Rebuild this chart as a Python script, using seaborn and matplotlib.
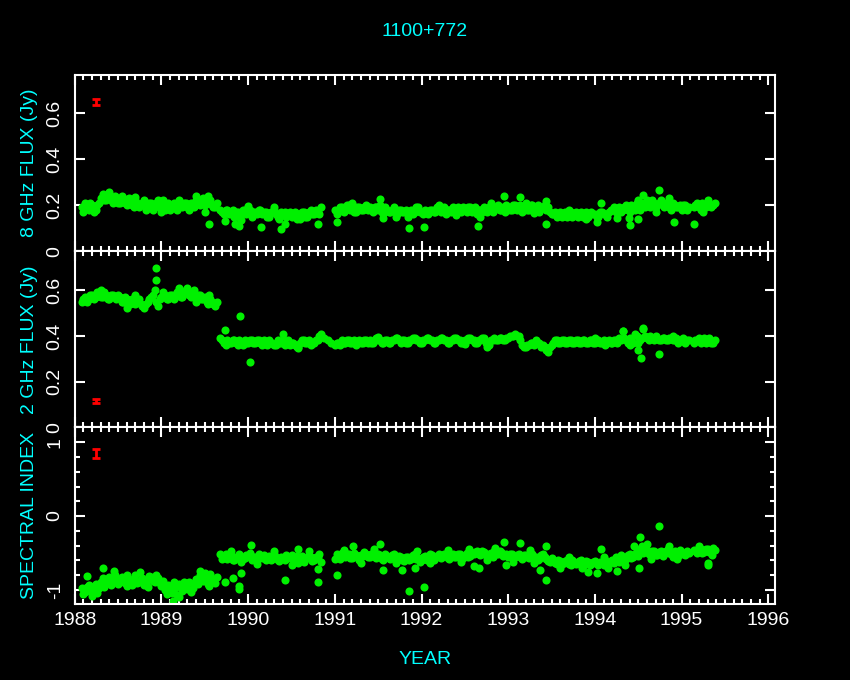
import matplotlib
matplotlib.use("Agg")
import matplotlib.pyplot as plt
import numpy as np
import pandas as pd
import seaborn as sns
from matplotlib.ticker import MultipleLocator, NullLocator

# observation epochs (decimal year), shared by the three panels
years = [
    1988.08, 1988.12, 1988.16, 1988.20, 1988.24, 1988.28, 1988.32, 1988.36, 1988.40, 1988.44,
    1988.48, 1988.52, 1988.56, 1988.60, 1988.64, 1988.68, 1988.72, 1988.76, 1988.80, 1988.84,
    1988.88, 1988.92, 1988.96, 1989.00, 1989.04, 1989.08, 1989.12, 1989.16, 1989.20, 1989.24,
    1989.28, 1989.32, 1989.36, 1989.40, 1989.44, 1989.48, 1989.52, 1989.56, 1989.60, 1989.64,
    1989.68, 1989.72, 1989.76, 1989.80, 1989.84, 1989.88, 1989.92, 1989.96, 1990.00, 1990.04,
    1990.08, 1990.12, 1990.16, 1990.20, 1990.24, 1990.28, 1990.32, 1990.36, 1990.40, 1990.44,
    1990.48, 1990.52, 1990.56, 1990.60, 1990.64, 1990.68, 1990.72, 1990.76, 1990.80, 1990.84,
    1991.00, 1991.04, 1991.08, 1991.12, 1991.16, 1991.20, 1991.24, 1991.28, 1991.32, 1991.36,
    1991.40, 1991.44, 1991.48, 1991.52, 1991.56, 1991.60, 1991.64, 1991.68, 1991.72, 1991.76,
    1991.80, 1991.84, 1991.88, 1991.92, 1991.96, 1992.00, 1992.04, 1992.08, 1992.12, 1992.16,
    1992.20, 1992.24, 1992.28, 1992.32, 1992.36, 1992.40, 1992.44, 1992.48, 1992.52, 1992.56,
    1992.60, 1992.64, 1992.68, 1992.72, 1992.76, 1992.80, 1992.84, 1992.88, 1992.92, 1992.96,
    1993.00, 1993.04, 1993.08, 1993.12, 1993.16, 1993.20, 1993.24, 1993.28, 1993.32, 1993.36,
    1993.40, 1993.44, 1993.48, 1993.52, 1993.56, 1993.60, 1993.64, 1993.68, 1993.72, 1993.76,
    1993.80, 1993.84, 1993.88, 1993.92, 1993.96, 1994.00, 1994.04, 1994.08, 1994.12, 1994.16,
    1994.20, 1994.24, 1994.28, 1994.32, 1994.36, 1994.40, 1994.44, 1994.48, 1994.52, 1994.56,
    1994.60, 1994.64, 1994.68, 1994.72, 1994.76, 1994.80, 1994.84, 1994.88, 1994.92, 1994.96,
    1995.00, 1995.04, 1995.08,
    1995.14, 1995.18, 1995.22, 1995.26, 1995.30, 1995.34, 1995.38,
]

flux8 = [
    0.19, 0.21, 0.18, 0.20, 0.18, 0.21, 0.25, 0.22, 0.24, 0.21,
    0.23, 0.21, 0.23, 0.20, 0.22, 0.19, 0.21, 0.20, 0.22, 0.19,
    0.21, 0.19, 0.22, 0.20, 0.18, 0.21, 0.19, 0.20, 0.22, 0.19,
    0.21, 0.18, 0.20, 0.22, 0.20, 0.23, 0.21, 0.22, 0.19, 0.21,
    0.18, 0.16, 0.18, 0.17, 0.15, 0.17, 0.16, 0.18, 0.17, 0.15,
    0.17, 0.18, 0.16, 0.17, 0.15, 0.17, 0.16, 0.14, 0.16, 0.15,
    0.17, 0.16, 0.14, 0.16, 0.17, 0.15, 0.18, 0.16, 0.17, 0.19,
    0.18, 0.17, 0.19, 0.18, 0.20, 0.19, 0.17, 0.19, 0.18, 0.20,
    0.19, 0.17, 0.19, 0.20, 0.16, 0.18, 0.17, 0.19, 0.16, 0.18,
    0.17, 0.15, 0.18, 0.17, 0.19, 0.17, 0.18, 0.16, 0.18, 0.17,
    0.19, 0.18, 0.16, 0.18, 0.19, 0.17, 0.18, 0.19, 0.17, 0.19,
    0.18, 0.16, 0.18, 0.19, 0.17, 0.19, 0.18, 0.20, 0.18, 0.17,
    0.19, 0.18, 0.20, 0.19, 0.17, 0.19, 0.18, 0.20, 0.19, 0.17,
    0.19, 0.18, 0.17, 0.16, 0.15, 0.17, 0.16, 0.15, 0.17, 0.16,
    0.15, 0.17, 0.16, 0.15, 0.17, 0.16, 0.15, 0.17, 0.16, 0.17,
    0.18, 0.17, 0.19, 0.18, 0.20, 0.17, 0.19, 0.21, 0.18, 0.20,
    0.22, 0.19, 0.21, 0.20, 0.22, 0.19, 0.21, 0.18, 0.20, 0.19,
    0.18, 0.20, 0.19,
    0.19, 0.21, 0.18, 0.20, 0.22, 0.19, 0.21,
]

flux2 = [
    0.55, 0.57, 0.56, 0.58, 0.57, 0.59, 0.57, 0.58, 0.56, 0.58,
    0.56, 0.57, 0.55, 0.56, 0.54, 0.56, 0.55, 0.54, 0.52, 0.55,
    0.57, 0.60, 0.53, 0.57, 0.58, 0.56, 0.58, 0.57, 0.59, 0.57,
    0.60, 0.58, 0.59, 0.57, 0.58, 0.56, 0.55, 0.56, 0.54, 0.55,
    0.39, 0.37, 0.38, 0.37, 0.38, 0.36, 0.37, 0.38, 0.37, 0.38,
    0.37, 0.38, 0.36, 0.37, 0.38, 0.37, 0.36, 0.37, 0.38, 0.37,
    0.36, 0.37, 0.35, 0.37, 0.38, 0.37, 0.36, 0.37, 0.38, 0.41,
    0.36, 0.37, 0.38, 0.37, 0.38, 0.37, 0.36, 0.38, 0.37, 0.38,
    0.38, 0.37, 0.39, 0.38, 0.37, 0.38, 0.37, 0.38, 0.39, 0.37,
    0.38, 0.37, 0.38, 0.39, 0.38, 0.37, 0.38, 0.39, 0.38, 0.37,
    0.38, 0.39, 0.38, 0.37, 0.38, 0.39, 0.38, 0.37, 0.38, 0.39,
    0.38, 0.37, 0.38, 0.39, 0.35, 0.38, 0.39, 0.38, 0.39, 0.38,
    0.39, 0.40, 0.41, 0.40, 0.36, 0.35, 0.36, 0.37, 0.38, 0.37,
    0.36, 0.34, 0.35, 0.37, 0.38, 0.37, 0.38, 0.37, 0.38, 0.37,
    0.38, 0.37, 0.38, 0.37, 0.38, 0.37, 0.38, 0.37, 0.36, 0.38,
    0.37, 0.38, 0.39, 0.42, 0.38, 0.39, 0.37, 0.40, 0.38, 0.43,
    0.39, 0.40, 0.38, 0.39, 0.38, 0.39, 0.38, 0.39, 0.38, 0.37,
    0.38, 0.37, 0.38,
    0.37, 0.38, 0.37, 0.39, 0.38, 0.37, 0.38,
]

spec_index = [
    -0.98, -1.03, -0.94, -1.01, -0.92, -0.97, -0.84, -0.90, -0.82, -0.88,
    -0.84, -0.90, -0.86, -0.80, -0.88, -0.85, -0.91, -0.87, -0.93, -0.86,
    -0.82, -0.89, -0.84, -0.95, -1.00, -0.93, -1.04, -0.97, -0.92, -1.01,
    -0.95, -0.90, -0.98, -0.86, -0.80, -0.88, -0.84, -0.78, -0.87, -0.83,
    -0.52, -0.55, -0.58, -0.53, -0.60, -0.56, -0.62, -0.57, -0.54, -0.59,
    -0.55, -0.52, -0.57, -0.60, -0.54, -0.58, -0.55, -0.61, -0.57, -0.53,
    -0.56, -0.60, -0.54, -0.58, -0.62, -0.57, -0.55, -0.59, -0.56, -0.62,
    -0.58, -0.55, -0.50, -0.56, -0.52, -0.57, -0.53, -0.59, -0.54, -0.51,
    -0.55, -0.50, -0.57, -0.53, -0.59, -0.54, -0.58, -0.52, -0.60, -0.56,
    -0.61, -0.55, -0.58, -0.52, -0.57, -0.60, -0.54, -0.58, -0.53, -0.57,
    -0.52, -0.56, -0.53, -0.58, -0.51, -0.55, -0.52, -0.57, -0.50, -0.54,
    -0.52, -0.48, -0.53, -0.49, -0.55, -0.50, -0.47, -0.52, -0.49, -0.53,
    -0.55, -0.51, -0.56, -0.52, -0.58, -0.53, -0.57, -0.51, -0.55, -0.58,
    -0.52, -0.58, -0.62, -0.60, -0.65, -0.61, -0.64, -0.60, -0.66, -0.62,
    -0.64, -0.60, -0.66, -0.62, -0.65, -0.61, -0.66, -0.63, -0.60, -0.64,
    -0.60, -0.56, -0.62, -0.55, -0.58, -0.52, -0.56, -0.48, -0.44, -0.50,
    -0.46, -0.52, -0.48, -0.53, -0.47, -0.51, -0.45, -0.52, -0.48, -0.54,
    -0.49, -0.53, -0.50,
    -0.46, -0.50, -0.44, -0.49, -0.45, -0.48, -0.46,
]

# epochs falling between the ones above
years_mid = [
    1988.10, 1988.14, 1988.18, 1988.22, 1988.26, 1988.30, 1988.34, 1988.38, 1988.42, 1988.46,
    1988.50, 1988.54, 1988.58, 1988.62, 1988.66, 1988.70, 1988.74, 1988.78, 1988.82, 1988.86,
    1988.90, 1988.94, 1988.98, 1989.02, 1989.06, 1989.10, 1989.14, 1989.18, 1989.22, 1989.26,
    1989.30, 1989.34, 1989.38, 1989.42, 1989.46, 1989.50, 1989.54, 1989.58, 1989.62,
    1989.70, 1989.74, 1989.78, 1989.82, 1989.86, 1989.90, 1989.94, 1989.98, 1990.02, 1990.06,
    1990.10, 1990.14, 1990.18, 1990.22, 1990.26, 1990.30, 1990.34, 1990.38, 1990.42, 1990.46,
    1990.50, 1990.54, 1990.58, 1990.62, 1990.66, 1990.70, 1990.74, 1990.78, 1990.82,
    1991.02, 1991.06, 1991.10, 1991.14, 1991.18, 1991.22, 1991.26, 1991.30, 1991.34, 1991.38,
    1991.42, 1991.46, 1991.50, 1991.54, 1991.58, 1991.62, 1991.66, 1991.70, 1991.74, 1991.78,
    1991.82, 1991.86, 1991.90, 1991.94, 1991.98, 1992.02, 1992.06, 1992.10, 1992.14, 1992.18,
    1992.22, 1992.26, 1992.30, 1992.34, 1992.38, 1992.42, 1992.46, 1992.50, 1992.54, 1992.58,
    1992.62, 1992.66, 1992.70, 1992.74, 1992.78, 1992.82, 1992.86, 1992.90, 1992.94, 1992.98,
    1993.02, 1993.06, 1993.10, 1993.14, 1993.18, 1993.22, 1993.26, 1993.30, 1993.34, 1993.38,
    1993.42, 1993.46, 1993.50, 1993.54, 1993.58, 1993.62, 1993.66, 1993.70, 1993.74, 1993.78,
    1993.82, 1993.86, 1993.90, 1993.94, 1993.98, 1994.02, 1994.06, 1994.10, 1994.14, 1994.18,
    1994.22, 1994.26, 1994.30, 1994.34, 1994.38, 1994.42, 1994.46, 1994.50, 1994.54, 1994.58,
    1994.62, 1994.66, 1994.70, 1994.74, 1994.78, 1994.82, 1994.86, 1994.90, 1994.94, 1994.98,
    1995.02, 1995.06,
    1995.16, 1995.20, 1995.24, 1995.28, 1995.32, 1995.36,
]

flux8_mid = [
    0.17, 0.20, 0.21, 0.17, 0.20, 0.23, 0.22, 0.25, 0.22, 0.24,
    0.21, 0.24, 0.21, 0.23, 0.20, 0.22, 0.19, 0.21, 0.18, 0.21,
    0.18, 0.21, 0.19, 0.22, 0.20, 0.18, 0.21, 0.18, 0.20, 0.21,
    0.19, 0.21, 0.19, 0.21, 0.22, 0.20, 0.24, 0.20, 0.19,
    0.17, 0.18, 0.16, 0.18, 0.17, 0.15, 0.18, 0.16, 0.18, 0.17,
    0.16, 0.18, 0.17, 0.15, 0.17, 0.18, 0.15, 0.17, 0.17, 0.16,
    0.15, 0.17, 0.16, 0.17, 0.15, 0.17, 0.16, 0.18, 0.16,
    0.16, 0.19, 0.17, 0.20, 0.18, 0.17, 0.19, 0.18, 0.19, 0.18,
    0.18, 0.19, 0.18, 0.17, 0.19, 0.17, 0.18, 0.17, 0.18, 0.17,
    0.18, 0.17, 0.16, 0.19, 0.17, 0.16, 0.17, 0.18, 0.17, 0.19,
    0.17, 0.19, 0.18, 0.17, 0.18, 0.19, 0.17, 0.18, 0.19, 0.17,
    0.19, 0.18, 0.17, 0.18, 0.19, 0.17, 0.19, 0.18, 0.19, 0.20,
    0.18, 0.20, 0.18, 0.20, 0.19, 0.18, 0.20, 0.18, 0.20, 0.19,
    0.20, 0.19, 0.16, 0.17, 0.16, 0.15, 0.17, 0.16, 0.15, 0.17,
    0.16, 0.15, 0.17, 0.16, 0.16, 0.15, 0.17, 0.16, 0.15, 0.18,
    0.19, 0.18, 0.17, 0.19, 0.18, 0.20, 0.18, 0.19, 0.21, 0.19,
    0.20, 0.22, 0.19, 0.21, 0.20, 0.21, 0.19, 0.21, 0.19, 0.20,
    0.20, 0.18,
    0.20, 0.19, 0.21, 0.19, 0.20, 0.20,
]

flux2_mid = [
    0.56, 0.55, 0.58, 0.56, 0.59, 0.57, 0.59, 0.56, 0.58, 0.57,
    0.58, 0.55, 0.57, 0.54, 0.56, 0.54, 0.56, 0.53, 0.54, 0.56,
    0.58, 0.55, 0.56, 0.59, 0.56, 0.58, 0.56, 0.59, 0.57, 0.59,
    0.61, 0.57, 0.60, 0.58, 0.56, 0.57, 0.54, 0.55, 0.53,
    0.38, 0.36, 0.37, 0.38, 0.37, 0.38, 0.36, 0.37, 0.38, 0.37,
    0.38, 0.37, 0.38, 0.36, 0.37, 0.36, 0.38, 0.37, 0.36, 0.38,
    0.37, 0.36, 0.35, 0.38, 0.37, 0.38, 0.37, 0.38, 0.40,
    0.37, 0.36, 0.37, 0.38, 0.37, 0.38, 0.37, 0.37, 0.38, 0.37,
    0.37, 0.38, 0.38, 0.37, 0.38, 0.37, 0.38, 0.39, 0.38, 0.38,
    0.37, 0.38, 0.39, 0.38, 0.37, 0.38, 0.39, 0.38, 0.37, 0.38,
    0.39, 0.38, 0.37, 0.38, 0.39, 0.38, 0.37, 0.38, 0.39, 0.38,
    0.37, 0.38, 0.39, 0.37, 0.36, 0.38, 0.38, 0.39, 0.38, 0.39,
    0.40, 0.40, 0.40, 0.38, 0.35, 0.36, 0.37, 0.36, 0.37, 0.35,
    0.35, 0.33, 0.36, 0.38, 0.37, 0.38, 0.37, 0.38, 0.37, 0.38,
    0.37, 0.38, 0.37, 0.38, 0.37, 0.38, 0.37, 0.38, 0.37, 0.37,
    0.38, 0.37, 0.38, 0.39, 0.37, 0.38, 0.41, 0.37, 0.39, 0.40,
    0.38, 0.39, 0.40, 0.38, 0.39, 0.38, 0.39, 0.38, 0.39, 0.38,
    0.39, 0.38,
    0.38, 0.39, 0.38, 0.37, 0.39, 0.37,
]

spec_index_mid = [
    -1.05, -0.96, -1.02, -0.95, -1.04, -0.90, -0.96, -0.86, -0.94, -0.80,
    -0.92, -0.82, -0.91, -0.85, -0.93, -0.80, -0.89, -0.84, -0.90, -0.81,
    -0.88, -0.80, -0.91, -0.88, -1.06, -0.98, -0.90, -1.07, -0.96, -0.89,
    -0.99, -1.03, -0.91, -0.92, -0.85, -0.77, -0.92, -0.85, -0.91,
    -0.58, -0.51, -0.55, -0.59, -0.55, -0.52, -0.58, -0.53, -0.50, -0.56,
    -0.59, -0.56, -0.53, -0.56, -0.59, -0.52, -0.60, -0.55, -0.59, -0.57,
    -0.53, -0.56, -0.63, -0.54, -0.57, -0.53, -0.61, -0.56, -0.52,
    -0.52, -0.58, -0.54, -0.52, -0.57, -0.50, -0.56, -0.53, -0.49, -0.55,
    -0.51, -0.56, -0.52, -0.58, -0.52, -0.57, -0.53, -0.58, -0.54, -0.59,
    -0.56, -0.60, -0.53, -0.58, -0.62, -0.55, -0.59, -0.52, -0.59, -0.54,
    -0.57, -0.52, -0.57, -0.54, -0.56, -0.51, -0.56, -0.53, -0.55, -0.50,
    -0.49, -0.52, -0.47, -0.53, -0.51, -0.55, -0.51, -0.48, -0.54, -0.51,
    -0.52, -0.57, -0.53, -0.56, -0.53, -0.56, -0.52, -0.56, -0.59, -0.53,
    -0.56, -0.61, -0.57, -0.63, -0.59, -0.65, -0.61, -0.65, -0.60, -0.65,
    -0.61, -0.65, -0.61, -0.67, -0.62, -0.65, -0.62, -0.66, -0.64, -0.61,
    -0.63, -0.59, -0.53, -0.60, -0.53, -0.57, -0.51, -0.54, -0.41, -0.45,
    -0.51, -0.47, -0.53, -0.49, -0.54, -0.47, -0.50, -0.55, -0.50, -0.46,
    -0.51, -0.47,
    -0.48, -0.45, -0.50, -0.44, -0.49, -0.43,
]

# points off the main band (edges of the scatter and isolated outliers)
out8_year = [1989.55, 1989.73, 1989.85, 1989.90, 1989.92, 1990.15, 1990.38, 1990.43,
             1990.80, 1991.03, 1991.52, 1991.56, 1991.85, 1992.03, 1992.65, 1992.67,
             1992.95, 1993.14, 1993.44, 1993.44, 1994.03, 1994.07, 1994.25, 1994.39,
             1994.41, 1994.50, 1994.55, 1994.74, 1994.91, 1995.14,
             1988.40, 1988.70, 1989.00, 1989.40, 1989.50, 1990.00, 1990.30, 1990.60,
             1991.20, 1991.70, 1992.20, 1992.40, 1992.80, 1993.20, 1993.30, 1993.70,
             1993.90, 1994.50, 1994.70, 1994.85, 1995.25]
out8 = [0.120, 0.131, 0.120, 0.108, 0.135, 0.107, 0.098, 0.120,
        0.120, 0.125, 0.225, 0.143, 0.100, 0.107, 0.110, 0.147,
        0.238, 0.235, 0.218, 0.120, 0.128, 0.208, 0.142, 0.142,
        0.114, 0.138, 0.242, 0.264, 0.125, 0.117,
        0.255, 0.235, 0.170, 0.240, 0.170, 0.195, 0.190, 0.140,
        0.210, 0.150, 0.200, 0.155, 0.210, 0.210, 0.165, 0.180,
        0.140, 0.220, 0.170, 0.230, 0.170]

out2_year = [1988.94, 1988.94, 1989.73, 1989.91, 1990.02, 1990.40, 1990.58, 1990.88,
             1990.92, 1990.96, 1994.32, 1994.50, 1994.53, 1994.55, 1994.74,
             1988.30, 1988.60, 1988.70, 1989.20, 1989.40, 1989.55, 1991.50, 1992.50,
             1994.00, 1994.40, 1994.90]
out2 = [0.695, 0.643, 0.427, 0.487, 0.287, 0.410, 0.349, 0.390,
        0.380, 0.370, 0.421, 0.340, 0.305, 0.436, 0.322,
        0.600, 0.520, 0.580, 0.610, 0.550, 0.580, 0.395, 0.365,
        0.390, 0.360, 0.400]

outsi_year = [1988.14, 1988.32, 1989.13, 1989.73, 1989.83, 1989.89, 1989.90, 1989.92,
              1990.03, 1990.43, 1990.57, 1990.80, 1990.81, 1991.03, 1991.21, 1991.52,
              1991.56, 1991.78, 1991.86, 1991.92, 1992.03, 1992.61, 1992.66, 1992.95,
              1992.97, 1993.14, 1993.37, 1993.44, 1993.44, 1993.92, 1994.03, 1994.07,
              1994.25, 1994.51, 1994.52, 1994.74, 1995.30, 1995.31,
              1988.20, 1988.45, 1988.60, 1988.75, 1988.85, 1989.20, 1989.45, 1989.55,
              1989.80, 1990.10, 1990.30, 1990.50, 1990.70,
              1991.10, 1991.30, 1991.45, 1991.70, 1991.95, 1992.10, 1992.30, 1992.45,
              1992.55, 1992.75, 1992.85, 1993.05, 1993.25, 1993.30, 1993.60, 1993.70,
              1993.85, 1994.10, 1994.15, 1994.35, 1994.45, 1994.60, 1994.65, 1994.85,
              1994.95, 1995.20, 1995.35]
outsi = [-0.81, -0.70, -1.15, -0.90, -0.84, -0.95, -0.99, -0.77,
         -0.39, -0.87, -0.44, -0.72, -0.89, -0.80, -0.40, -0.38,
         -0.73, -0.73, -1.01, -0.70, -0.96, -0.68, -0.70, -0.35,
         -0.66, -0.36, -0.73, -0.40, -0.87, -0.76, -0.77, -0.45,
         -0.74, -0.71, -0.29, -0.14, -0.67, -0.64,
         -1.08, -0.75, -0.95, -0.76, -0.96, -1.10, -0.74, -0.95,
         -0.47, -0.65, -0.48, -0.66, -0.47,
         -0.46, -0.63, -0.45, -0.64, -0.47, -0.64, -0.46, -0.62,
         -0.44, -0.60, -0.43, -0.62, -0.46, -0.64, -0.70, -0.55,
         -0.70, -0.56, -0.70, -0.66, -0.40, -0.38, -0.58, -0.40,
         -0.58, -0.40, -0.53]

# typical error bar drawn in the corner of each panel
err_year = 1988.24
err_value = [0.648, 0.117, 0.847]
err_size = [0.012, 0.008, 0.056]

GREEN = "#00f000"
CYAN = "#00ffff"

sns.set_style("dark", {"axes.facecolor": "black", "figure.facecolor": "black",
                       "axes.edgecolor": "white", "axes.grid": False})
plt.rcParams["font.family"] = ["Liberation Sans", "DejaVu Sans"]
plt.rcParams["axes.unicode_minus"] = False

fig, axes = plt.subplots(3, 1, figsize=(8.5, 6.8), dpi=100, sharex=True)
fig.subplots_adjust(left=0.088, right=0.912, bottom=0.112, top=0.89, hspace=0)

panels = [
    (flux8, flux8_mid, out8_year, out8, (0, 0.766), [0, 0.2, 0.4, 0.6],
     ["0", "0.2", "0.4", "0.6"], "8 GHz FLUX (Jy)"),
    (flux2, flux2_mid, out2_year, out2, (0, 0.77), [0, 0.2, 0.4, 0.6],
     ["0", "0.2", "0.4", "0.6"], "2 GHz FLUX (Jy)"),
    (spec_index, spec_index_mid, outsi_year, outsi, (-1.19, 1.2), [-1, 0, 1],
     ["-1", "0", "1"], "SPECTRAL INDEX"),
]

for i, (ax, (vals, vals_mid, oyr, oval, lim, ticks, tlabels, label)) in enumerate(zip(axes, panels)):
    df = pd.concat([
        pd.DataFrame({"year": years, "value": vals}),
        pd.DataFrame({"year": years_mid, "value": vals_mid}),
        pd.DataFrame({"year": oyr, "value": oval}),
    ])
    sns.scatterplot(data=df, x="year", y="value", ax=ax, color=GREEN, s=34,
                    linewidth=0, legend=False)
    ax.errorbar(err_year, err_value[i], yerr=err_size[i], color="red", capsize=3,
                elinewidth=2, capthick=2)

    ax.set_facecolor("black")
    for sp in ax.spines.values():
        sp.set_color("white")
        sp.set_linewidth(1.5)
    ax.set_xlim(1988, 1996.08)
    ax.set_ylim(lim)
    ax.set_yticks(ticks, tlabels)
    if i == 2:
        ax.yaxis.set_minor_locator(MultipleLocator(0.2))
    else:
        ax.yaxis.set_minor_locator(NullLocator())
    ax.xaxis.set_major_locator(MultipleLocator(1))
    ax.xaxis.set_minor_locator(MultipleLocator(0.1))
    ax.tick_params(axis="both", which="both", direction="in", colors="white",
                   top=True, bottom=True, left=True, right=True, width=1.5,
                   labelsize=14)
    ax.tick_params(which="major", length=7)
    ax.tick_params(which="minor", length=3.6)
    ax.tick_params(axis="y", labelrotation=90, pad=8)
    ax.tick_params(axis="x", pad=6)
    for t in ax.get_yticklabels():
        t.set_va("center")
    ax.set_xlabel("")
    ax.set_ylabel(label, color=CYAN, fontsize=14)
    ax.yaxis.set_label_coords(-0.052, 0.5)

fig.text(0.5, 1 - 32 / 680, "1100+772", color=CYAN, fontsize=14, ha="center", va="center")
fig.text(0.5, 1 - 659 / 680, "YEAR", color=CYAN, fontsize=14, ha="center", va="center")

fig.savefig("out.png", dpi=100, facecolor="black")
